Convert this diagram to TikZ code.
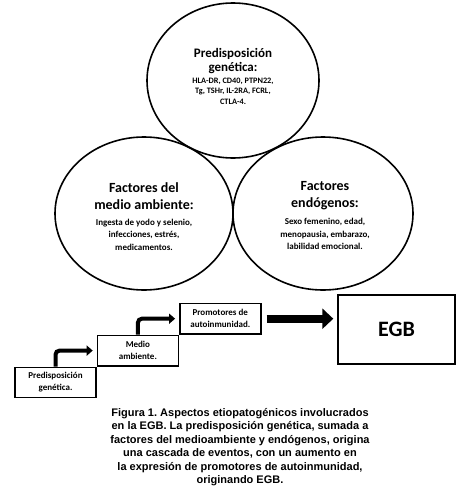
\documentclass[tikz,border=0pt]{standalone}
\usepackage{fontspec}
\setmainfont{Carlito}
\newfontfamily\capfont{Liberation Sans}
\frenchspacing
\usetikzlibrary{arrows.meta,positioning,shapes.geometric}
\tikzset{
  factor/.style={draw,ellipse,line width=1.6pt,inner sep=0pt},
  factorhead/.style={align=center,inner sep=1pt,font=\bfseries\fontsize{14}{17.5}\selectfont},
  factorbody/.style={align=center,inner sep=1pt,font=\bfseries\fontsize{9}{12.5}\selectfont},
  stepbox/.style={draw,rectangle,line width=1.4pt,minimum width=81pt,minimum height=30.5pt,inner sep=1pt,align=center,font=\bfseries\fontsize{9}{12}\selectfont},
  egbbox/.style={draw,rectangle,line width=1.4pt,minimum width=117pt,minimum height=69pt,font=\bfseries\fontsize{22}{24}\selectfont},
  steparrow/.style={line width=4pt,rounded corners=4pt,-{Triangle[length=6pt,width=10pt]},shorten >=4pt},
  bigarrow/.style={line width=8pt,-{Triangle[length=11pt,width=20pt]},shorten >=4pt,shorten <=5pt}
}

\begin{document}
\begin{tikzpicture}[x=1pt,y=-1pt]
  \useasboundingbox (0,0) rectangle (460,493);

  % three overlapping factors
  \node[factor,minimum width=172pt,minimum height=155pt] (gen) at (233,80.5) {};
  \node[factor,minimum width=178pt,minimum height=153pt] (amb) at (144,213.5) {};
  \node[factor,minimum width=180pt,minimum height=153pt] (endo) at (323,213.5) {};

  \node[factorhead,font=\bfseries\fontsize{13}{14}\selectfont] (genh) at (233,61.5) {Predisposición\\genética:};
  \node[factorbody,font=\bfseries\fontsize{8.3}{10.5}\selectfont] (genb) at (233,91) {HLA-DR, CD40, PTPN22,\\Tg, TSHr, IL-2RA, FCRL,\\CTLA-4.};

  \node[factorhead] (ambh) at (144,196) {Factores del\\medio ambiente:};
  \node[factorbody] (ambb) at (144,234.5) {Ingesta de yodo y selenio,\\infecciones, estrés,\\medicamentos.};

  \node[factorhead] (endoh) at (325,195.5) {Factores\\endógenos:};
  \node[factorbody] (endob) at (325,234) {Sexo femenino, edad,\\menopausia, embarazo,\\labilidad emocional.};

  % cascade
  \node[stepbox] (b1) at (55.5,382.5) {Predisposición\\genética.};
  \node[stepbox,above right=0pt of b1] (b2) {Medio\\ambiente.};
  \node[stepbox,above right=0pt of b2] (b3) {Promotores de\\autoinmunidad.};
  \node[egbbox] (egb) at (396.5,329.5) {EGB};

  \draw[steparrow] (b1.north) |- (b2.west);
  \draw[steparrow] (b2.north) |- (b3.west);
  \draw[bigarrow] (b3.east) -- (b3.east -| egb.west);

  \node[align=center,font=\capfont\bfseries\fontsize{11}{13.5}\selectfont] (cap) at (240,447)
    {Figura 1. Aspectos etiopatogénicos involucrados\\
     en la EGB. La predisposición genética, sumada a\\
     factores del medioambiente y endógenos, origina\\
     una cascada de eventos, con un aumento en\\
     la expresión de promotores de autoinmunidad,\\
     originando EGB.};
\end{tikzpicture}
\end{document}
